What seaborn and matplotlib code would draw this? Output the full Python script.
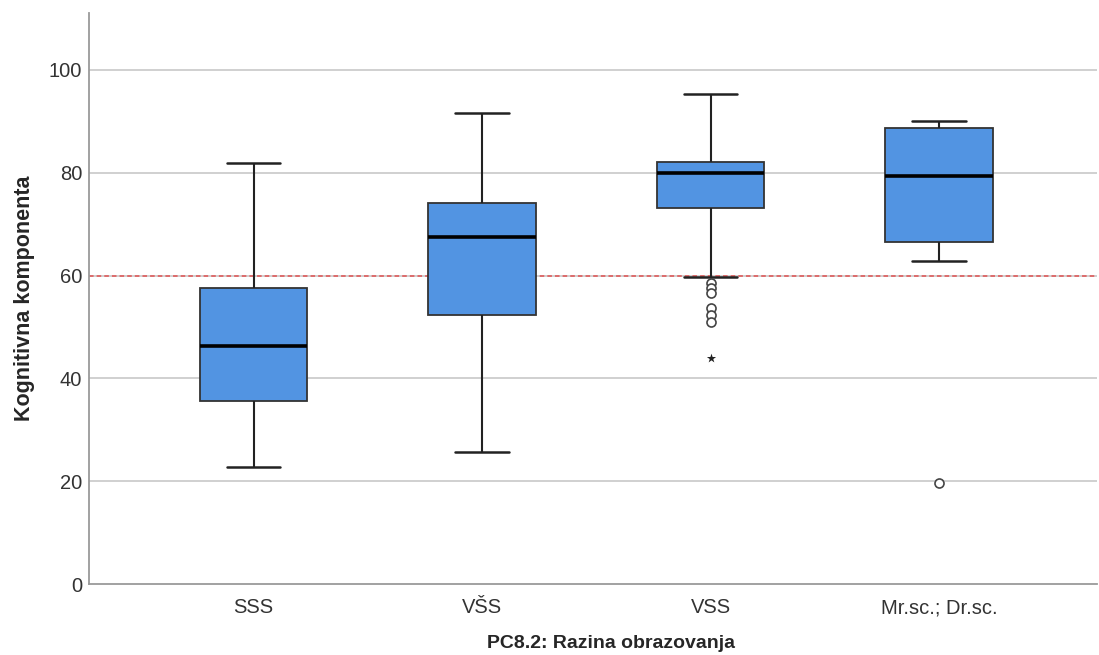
import numpy as np
import pandas as pd
import matplotlib
matplotlib.use('Agg')
import matplotlib.pyplot as plt
import seaborn as sns

# ==================== 数据 ====================
groups = ['SSS', 'VŠS', 'VSS', 'Mr.sc.; Dr.sc.']
whisker_low = [22.8, 25.7, 59.7, 62.8]
q1 = [35.6, 52.3, 73.2, 66.6]
median = [46.3, 67.5, 80.0, 79.4]
q3 = [57.6, 74.1, 82.1, 88.6]
whisker_high = [81.9, 91.6, 95.3, 90.1]

# 异常值 (circle) 与极端值 (star)
outlier_group = ['VSS', 'VSS', 'VSS', 'VSS', 'VSS', 'VSS', 'Mr.sc.; Dr.sc.']
outlier_value = [58.5, 57.6, 56.6, 53.7, 52.3, 51.0, 19.6]
extreme_group = ['VSS']
extreme_value = [44.0]

threshold = 60

# 五数概括 -> 长格式 (whis=inf 时箱线图直接用 min/max 作须)
rows = []
for g, lo, a, m, b, hi in zip(groups, whisker_low, q1, median, q3, whisker_high):
    for v in (lo, a, m, b, hi):
        rows.append({'group': g, 'value': v})
df = pd.DataFrame(rows)
df_out = pd.DataFrame({'group': outlier_group, 'value': outlier_value})
df_ext = pd.DataFrame({'group': extreme_group, 'value': extreme_value})

sns.set_style('white')
plt.rcParams['font.family'] = ['Liberation Sans', 'DejaVu Sans']

fig = plt.figure(figsize=(10.99, 6.55), dpi=100)
ax = fig.add_axes([0.081, 0.108, 0.917, 0.872])

# 网格线
for yv in [20, 40, 60, 80, 100]:
    ax.axhline(yv, color='#c8c8c8', linewidth=1.2, zorder=0)

sns.boxplot(data=df, x='group', y='value', order=groups, whis=np.inf,
            width=0.47, color='#5294e2', saturation=1, linecolor='#222222',
            linewidth=1.3, ax=ax,
            boxprops=dict(edgecolor='#333333', zorder=2),
            whiskerprops=dict(color='#222222', linewidth=1.5),
            capprops=dict(color='#222222', linewidth=1.8),
            medianprops=dict(color='black', linewidth=2.6))

sns.stripplot(data=df_out, x='group', y='value', order=groups, jitter=False,
              marker='o', s=6.5, color='white', edgecolor='#444444',
              linewidth=1.2, ax=ax, zorder=3)
sns.stripplot(data=df_ext, x='group', y='value', order=groups, jitter=False,
              marker='*', s=7, color='#222222', linewidth=0, ax=ax, zorder=3)

ax.axhline(threshold, color='#e05050', linestyle=(0, (3, 2)), linewidth=1.1, zorder=1.5)

ax.set_xlim(-0.72, 3.69)
ax.set_ylim(0, 111)
ax.set_yticks([0, 20, 40, 60, 80, 100])
ax.tick_params(axis='both', length=0, labelsize=14.5, colors='#333333')
ax.tick_params(axis='y', pad=5)
ax.tick_params(axis='x', pad=10)
for side in ['top', 'right']:
    ax.spines[side].set_visible(False)
for side in ['left', 'bottom']:
    ax.spines[side].set_color('#9a9a9a')
    ax.spines[side].set_linewidth(1.3)

ax.set_xlabel('PC8.2: Razina obrazovanja', fontsize=14, fontweight='bold')
ax.xaxis.set_label_coords(0.518, -0.089)
ax.set_ylabel('Kognitivna komponenta', fontsize=15.5, fontweight='bold', labelpad=10)

plt.savefig('out.png', dpi=100)
